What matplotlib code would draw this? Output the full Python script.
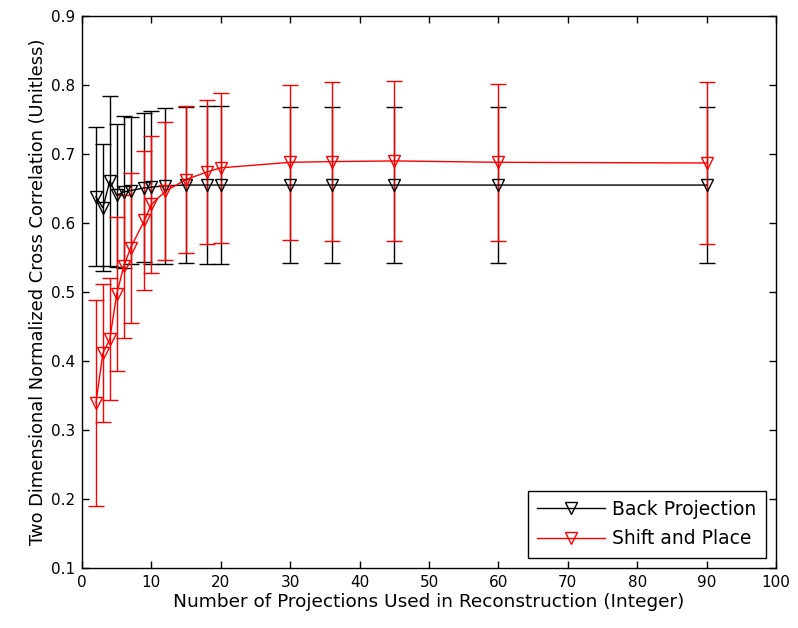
import numpy as np
import matplotlib
matplotlib.use('Agg')
import matplotlib.pyplot as plt

plt.rcParams['font.family'] = ['DejaVu Sans']

# number of projections
projections = [2, 3, 4, 5, 6, 7, 9, 10, 12, 15, 18, 20, 30, 36, 45, 60, 90]

# back projection: mean correlation and error half-width
bp_mean = [0.638, 0.622, 0.661, 0.640, 0.645, 0.647, 0.651, 0.652, 0.654,
           0.655, 0.655, 0.655, 0.655, 0.655, 0.655, 0.655, 0.655]
bp_err = [0.101, 0.092, 0.123, 0.104, 0.110, 0.106, 0.108, 0.111, 0.113,
          0.113, 0.114, 0.114, 0.113, 0.113, 0.113, 0.113, 0.113]

# shift and place
sp_mean = [0.339, 0.411, 0.432, 0.497, 0.537, 0.564, 0.604, 0.627, 0.646,
           0.663, 0.674, 0.680, 0.688, 0.689, 0.690, 0.688, 0.687]
sp_err = [0.149, 0.100, 0.088, 0.111, 0.103, 0.109, 0.101, 0.099, 0.100,
          0.107, 0.104, 0.109, 0.112, 0.115, 0.116, 0.114, 0.118]

fig = plt.figure(figsize=(7.98, 6.28), dpi=100)
ax = fig.add_axes([0.1028, 0.0955, 0.8696, 0.879])

bp = ax.errorbar(projections, bp_mean, yerr=bp_err, fmt='-v', color='black',
                 markerfacecolor='none', markeredgecolor='black', markersize=9,
                 linewidth=1, elinewidth=1, capsize=6, capthick=1)
sp = ax.errorbar(projections, sp_mean, yerr=sp_err, fmt='-v', color='red',
                 markerfacecolor='none', markeredgecolor='red', markersize=9,
                 linewidth=1, elinewidth=1, capsize=6, capthick=1)

ax.set_xlim(0, 100)
ax.set_ylim(0.1, 0.9)
ax.set_xticks(np.arange(0, 101, 10))
ax.set_yticks(np.arange(0.1, 0.91, 0.1))
ax.set_yticklabels(['%.1f' % v for v in np.arange(0.1, 0.91, 0.1)])
ax.tick_params(direction='in', top=True, right=True, labelsize=11,
               length=5, width=1, pad=5)
for s in ax.spines.values():
    s.set_linewidth(1)

ax.set_xlabel('Number of Projections Used in Reconstruction (Integer)',
              fontsize=13.3, labelpad=2)
ax.set_ylabel('Two Dimensional Normalized Cross Correlation (Unitless)',
              fontsize=12.9, labelpad=3)

leg = ax.legend([bp[0], sp[0]], ['Back Projection', 'Shift and Place'],
                loc='lower right', fontsize=13.5, fancybox=False, framealpha=1,
                edgecolor='black', handlelength=3.6, handletextpad=0.4,
                labelspacing=0.55, borderpad=0.5, borderaxespad=0.55)
leg.get_frame().set_linewidth(1)

fig.savefig('out.png', dpi=100)
